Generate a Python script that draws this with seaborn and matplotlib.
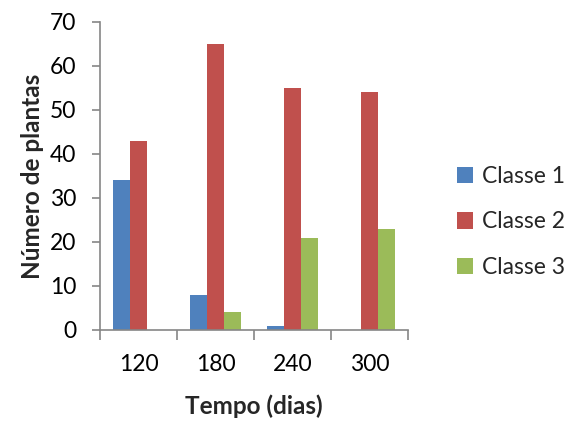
import matplotlib
matplotlib.use("Agg")
import matplotlib.pyplot as plt
import seaborn as sns
import pandas as pd
from matplotlib.patches import Patch

tempos = ["120", "180", "240", "300"]
classes = ["Classe 1", "Classe 2", "Classe 3"]
classe1 = [34, 8, 1, 0]
classe2 = [43, 65, 55, 54]
classe3 = [0, 4, 21, 23]
cores = ["#4F81BD", "#C0504D", "#9BBB59"]

rows = []
for serie, vals in zip(classes, [classe1, classe2, classe3]):
    for t, v in zip(tempos, vals):
        rows.append({"Tempo": t, "Classe": serie, "Plantas": v})
df = pd.DataFrame(rows)

sns.set_style("white")
plt.rcParams["font.family"] = ["Lato", "DejaVu Sans"]

fig = plt.figure(figsize=(5.70, 4.21), dpi=100)
ax = fig.add_axes([100 / 570, 1 - 330 / 421, 308 / 570, 308 / 421])

sns.barplot(data=df, x="Tempo", y="Plantas", hue="Classe", order=tempos,
            hue_order=classes, palette=cores, width=0.66, saturation=1,
            errorbar=None, ax=ax, legend=False, edgecolor="none")

ax.set_ylim(0, 70)
ax.set_xlim(-0.5, 3.5)
ax.set_yticks(range(0, 71, 10))
grey = "#868686"
for s in ["top", "right"]:
    ax.spines[s].set_visible(False)
for s in ["left", "bottom"]:
    ax.spines[s].set_color(grey)
    ax.spines[s].set_linewidth(1.2)

ax.tick_params(axis="y", direction="out", length=6, width=1.2, color=grey,
               labelsize=16.5, labelcolor="black", pad=11, left=True)
ax.set_xticks([-0.5, 0.5, 1.5, 2.5, 3.5], minor=False)
ax.set_xticklabels([])
ax.set_xticks(range(4), minor=True)
ax.set_xticklabels(tempos, minor=True)
ax.tick_params(axis="x", which="major", direction="out", length=7, width=1.2,
               color=grey, bottom=True)
ax.tick_params(axis="x", which="minor", length=0, labelsize=16.5, pad=17,
               labelcolor="black")

ax.set_xlabel("Tempo (dias)", fontsize=17.5, fontweight="bold", labelpad=14)
ax.set_ylabel("Número de plantas", fontsize=17.5, fontweight="bold", labelpad=4)

handles = [Patch(facecolor=c, edgecolor="none") for c in cores]
fig.legend(handles, classes, loc="center left", bbox_to_anchor=(436 / 570, 1 - 222 / 421),
           frameon=False, fontsize=16.5, handlelength=0.7, handleheight=0.7,
           labelspacing=1.05, handletextpad=0.4)

fig.savefig("out.png", dpi=100)
